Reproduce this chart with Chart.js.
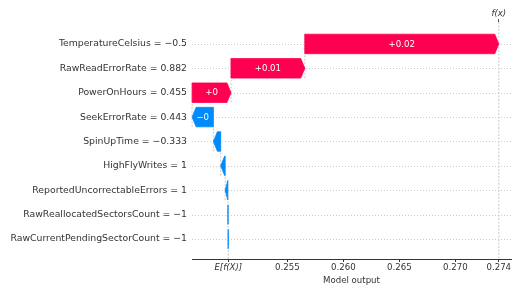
<!DOCTYPE html>
<html>
<head>
<meta charset="utf-8">
<script src="https://cdn.jsdelivr.net/npm/chart.js@4.4.0/dist/chart.umd.min.js"></script>
<style>
  html, body { margin: 0; padding: 0; background: #fff; }
  #wrap { width: 513px; height: 288px; }
</style>
</head>
<body>
<div id="wrap"><canvas id="waterfallChart"></canvas></div>
<script>
// feature rows, top to bottom
const featureLabels = [
  "TemperatureCelsius = \u22120.5",
  "RawReadErrorRate = 0.882",
  "PowerOnHours = 0.455",
  "SeekErrorRate = 0.443",
  "SpinUpTime = \u22120.333",
  "HighFlyWrites = 1",
  "ReportedUncorrectableErrors = 1",
  "RawReallocatedSectorsCount = \u22121",
  "RawCurrentPendingSectorCount = \u22121",
];
// shap contributions
const shapValues = [0.01732, 0.00659, 0.00347, -0.0019, -0.00065, -0.0004, -0.00024, -0.00002, -0.00002];
const baseValue = 0.24973; // E[f(X)]
const axisTicks = [0.255, 0.26, 0.265, 0.27];
const xMin = 0.24649;
const xMax = 0.27497;

const RED = "#ff0051";
const BLUE = "#008bfb";
const FONT = "DejaVu Sans";
const n = featureLabels.length;

// waterfall: the bottom row starts at the base value
const starts = new Array(n);
const ends = new Array(n);
let running = baseValue;
for (let i = n - 1; i >= 0; i--) {
  starts[i] = running;
  running += shapValues[i];
  ends[i] = running;
}
const fx = running; // f(x)

function fmtShap(v) {
  const s = parseFloat(Math.abs(v).toFixed(2)).toString();
  return (v >= 0 ? "+" : "\u2212") + s;
}

// dotted row lines, dashed connectors and the E[f(X)] / f(x) lines
const guideLines = {
  id: "guideLines",
  beforeDatasetsDraw(chart) {
    const { ctx, chartArea, scales } = chart;
    const xs = scales.x;
    const ys = scales.y;
    ctx.save();

    ctx.strokeStyle = "#cccccc";
    ctx.lineWidth = 1;
    ctx.setLineDash([1, 2]);
    for (let r = 0; r < n; r++) {
      const py = Math.round(ys.getPixelForValue(r)) + 0.5;
      ctx.beginPath();
      ctx.moveTo(chartArea.left, py);
      ctx.lineTo(chartArea.right, py);
      ctx.stroke();
    }

    ctx.strokeStyle = "#bbbbbb";
    ctx.lineWidth = 0.8;
    ctx.setLineDash([2, 1.5]);
    for (let i = 0; i < n - 1; i++) {
      const px = xs.getPixelForValue(starts[i]);
      ctx.beginPath();
      ctx.moveTo(px, ys.getPixelForValue(n - 1 - i + 0.4));
      ctx.lineTo(px, ys.getPixelForValue(n - 2 - i - 0.4));
      ctx.stroke();
    }

    const fxPx = xs.getPixelForValue(fx);
    ctx.beginPath();
    ctx.moveTo(fxPx, chartArea.top);
    ctx.lineTo(fxPx, chartArea.bottom);
    ctx.stroke();

    const ePx = xs.getPixelForValue(baseValue);
    ctx.beginPath();
    ctx.moveTo(ePx, chartArea.bottom);
    ctx.lineTo(ePx, chartArea.bottom - (chartArea.bottom - chartArea.top) / n);
    ctx.stroke();

    ctx.restore();
  },
};

// arrow shaped bars on top of the (transparent) floating bars
const arrowBars = {
  id: "arrowBars",
  afterDatasetsDraw(chart) {
    const { ctx } = chart;
    const meta = chart.getDatasetMeta(0);
    const headLen = 4;
    ctx.save();
    meta.data.forEach((bar, i) => {
      const { x, base, y, height } = bar.getProps(["x", "base", "y", "height"], true);
      const left = Math.min(x, base);
      const right = Math.max(x, base);
      const w = right - left;
      const hl = Math.min(headLen, w);
      const top = y - height / 2;
      const bottom = y + height / 2;
      const color = shapValues[i] >= 0 ? RED : BLUE;

      ctx.beginPath();
      if (shapValues[i] >= 0) {
        ctx.moveTo(left, top);
        ctx.lineTo(right - hl, top);
        ctx.lineTo(right, y);
        ctx.lineTo(right - hl, bottom);
        ctx.lineTo(left, bottom);
      } else {
        ctx.moveTo(right, top);
        ctx.lineTo(left + hl, top);
        ctx.lineTo(left, y);
        ctx.lineTo(left + hl, bottom);
        ctx.lineTo(right, bottom);
      }
      ctx.closePath();
      ctx.fillStyle = color;
      ctx.fill();
      ctx.lineWidth = 0.8;
      ctx.strokeStyle = color;
      ctx.stroke();

      const txt = fmtShap(shapValues[i]);
      ctx.font = "8.6px '" + FONT + "'";
      if (ctx.measureText(txt).width + 6 < w) {
        ctx.fillStyle = "#ffffff";
        ctx.textAlign = "center";
        ctx.textBaseline = "middle";
        ctx.fillText(txt, (left + right) / 2, y + 0.5);
      }
    });
    ctx.restore();
  },
};

const ctx = document.getElementById("waterfallChart").getContext("2d");

new Chart(ctx, {
  type: "bar",
  data: {
    datasets: [
      {
        data: shapValues.map((v, i) => ({ x: [starts[i], ends[i]], y: n - 1 - i })),
        backgroundColor: "rgba(0,0,0,0)",
        borderWidth: 0,
        barThickness: 19.5,
        xAxisID: "x",
        yAxisID: "y",
      },
    ],
  },
  options: {
    indexAxis: "y",
    responsive: true,
    maintainAspectRatio: false,
    animation: false,
    layout: { padding: { left: 0, right: 2, top: 0, bottom: 0 } },
    plugins: {
      legend: { display: false },
      tooltip: { enabled: false },
    },
    scales: {
      x: {
        type: "linear",
        position: "bottom",
        min: xMin,
        max: xMax,
        bounds: "data",
        afterBuildTicks: (scale) => {
          scale.ticks = [baseValue, ...axisTicks, fx].map((v) => ({ value: v }));
        },
        afterFit: (scale) => {
          scale.height = 29;
        },
        ticks: {
          autoSkip: false,
          maxRotation: 0,
          padding: 1,
          color: "#333333",
          font: (c) => ({
            family: FONT,
            size: 8.6,
            style: c.index === 0 ? "italic" : "normal",
          }),
          callback: (value, index, ticks) => {
            if (index === 0) return "E[f(X)]";
            return value.toFixed(3);
          },
        },
        grid: {
          drawOnChartArea: false,
          drawTicks: true,
          tickLength: 3,
          tickColor: "#333333",
        },
        border: { display: true, color: "#333333", width: 1 },
        title: {
          display: true,
          text: "Model output",
          color: "#333333",
          font: { family: FONT, size: 8.6 },
          padding: { top: 0, bottom: 2 },
        },
      },
      x2: {
        type: "linear",
        position: "top",
        min: xMin,
        max: xMax,
        bounds: "data",
        afterBuildTicks: (scale) => {
          scale.ticks = [{ value: fx }];
        },
        afterFit: (scale) => {
          scale.height = 22;
        },
        ticks: {
          autoSkip: false,
          maxRotation: 0,
          padding: 0,
          color: "#333333",
          font: { family: FONT, size: 8.6, style: "italic" },
          callback: () => "f(x)",
        },
        grid: {
          drawOnChartArea: false,
          drawTicks: true,
          tickLength: 3,
          tickColor: "#555555",
        },
        border: { display: false },
      },
      y: {
        type: "linear",
        min: -0.82,
        max: 8.9,
        bounds: "data",
        offset: false,
        afterBuildTicks: (scale) => {
          scale.ticks = featureLabels.map((_, i) => ({ value: i }));
        },
        afterFit: (scale) => {
          scale.width = 192;
        },
        ticks: {
          autoSkip: false,
          padding: 5,
          color: "#333333",
          font: { family: FONT, size: 9.3 },
          callback: (value) => featureLabels[n - 1 - value],
        },
        grid: { display: false, drawTicks: false, offset: false },
        border: { display: false },
      },
    },
  },
  plugins: [guideLines, arrowBars],
});
</script>
</body>
</html>
